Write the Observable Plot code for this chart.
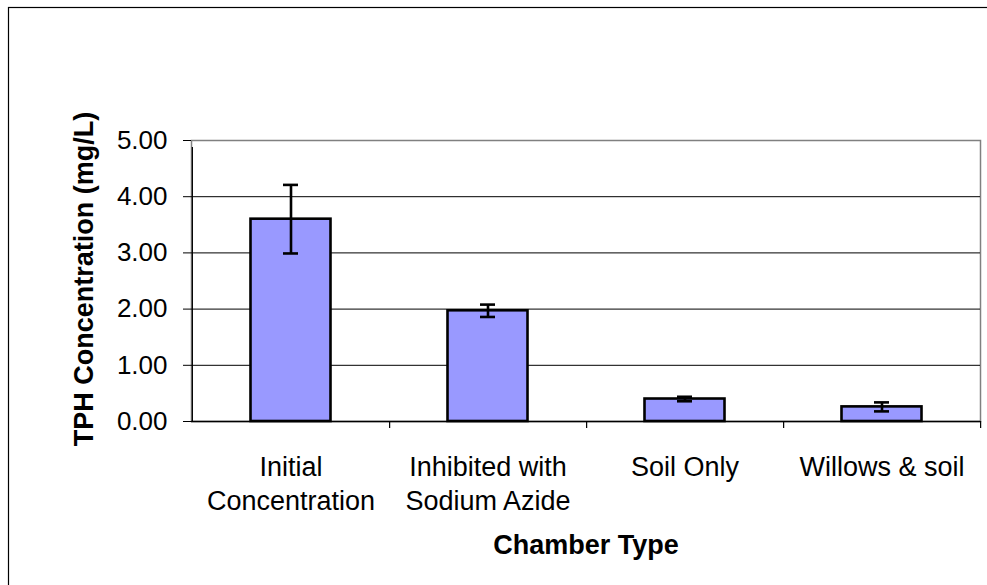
<!DOCTYPE html>
<html>
<head>
<meta charset="utf-8">
<script src="https://cdn.jsdelivr.net/npm/d3@7"></script>
<script src="https://cdn.jsdelivr.net/npm/@observablehq/plot@0.6"></script>
<style>
  html, body { margin: 0; padding: 0; background: #fff; }
  #chart svg { display: block; overflow: visible; }
</style>
</head>
<body>
<div id="chart"></div>
<script>
const categories = ["Initial\nConcentration", "Inhibited with\nSodium Azide", "Soil Only", "Willows & soil"];
const means = [3.60, 1.97, 0.40, 0.26];
const errors = [0.61, 0.11, 0.04, 0.08];
const yTicks = [0, 1, 2, 3, 4, 5];
const gridTicks = [1, 2, 3, 4];
const yTitle = "TPH Concentration (mg/L)";
const xTitle = "Chamber Type";

const data = categories.map((c, i) => ({cat: c, mean: means[i], lo: means[i] - errors[i], hi: means[i] + errors[i]}));

const W = 987, H = 585;
const mL = 191, mR = 7, mT = 140, mB = 164;
const step = (W - mL - mR) / categories.length;
const font = "Liberation Sans, Arial, Helvetica, sans-serif";

const chart = Plot.plot({
  width: W,
  height: H,
  marginLeft: mL,
  marginRight: mR,
  marginTop: mT,
  marginBottom: mB,
  style: {fontFamily: font, background: "#fff", color: "#000"},
  x: {domain: categories, padding: 0, axis: null},
  y: {domain: [0, 5], axis: null},
  marks: [
    Plot.frame({stroke: "#808080", strokeWidth: 1.5}),
    Plot.gridY(gridTicks, {stroke: "#000", strokeOpacity: 1, strokeWidth: 1}),
    // left axis line (extends slightly below zero as a tick)
    Plot.ruleX([categories[0]], {dx: -step / 2, y1: 0, y2: 5, insetBottom: -7, stroke: "#000", strokeWidth: 1.2}),
    // category boundary ticks
    Plot.ruleX(categories, {x: d => d, dx: step / 2, y1: 0, y2: 0, insetBottom: -7, stroke: "#000", strokeWidth: 1.2}),
    Plot.ruleY([0], {stroke: "#000", strokeWidth: 1.5}),
    Plot.axisY({ticks: yTicks, tickFormat: d3.format(".2f"), tickSize: 8, tickPadding: 16, fontSize: 26, label: null, stroke: "#000", fill: "#000"}),
    Plot.barY(data, {x: "cat", y: "mean", fill: "#9999ff", stroke: "#000", strokeWidth: 2.6, insetLeft: 58.5, insetRight: 58.5}),
    Plot.ruleX(data, {x: "cat", y1: "lo", y2: "hi", stroke: "#000", strokeWidth: 2.6}),
    Plot.tickY(data, {x: "cat", y: "hi", stroke: "#000", strokeWidth: 2.6, insetLeft: 91, insetRight: 91}),
    Plot.tickY(data, {x: "cat", y: "lo", stroke: "#000", strokeWidth: 2.6, insetLeft: 91, insetRight: 91}),
    Plot.text(categories, {x: d => d, text: d => d, frameAnchor: "bottom", lineAnchor: "top", dy: 30, fontSize: 27, lineHeight: 1.26, fill: "#000"}),
    Plot.text([xTitle], {frameAnchor: "bottom", lineAnchor: "bottom", dy: 132, fontSize: 27, fontWeight: "bold", fill: "#000"}),
    Plot.text([yTitle], {frameAnchor: "left", textAnchor: "middle", rotate: -90, lineAnchor: "bottom", dx: -99, dy: -2, fontSize: 27, fontWeight: "bold", fill: "#000"})
  ]
});

document.getElementById("chart").appendChild(chart);

// outer chart-area border (decoration)
d3.select(chart).insert("rect", ":first-child")
  .attr("x", 8.5).attr("y", 7.5)
  .attr("width", 990).attr("height", 590)
  .attr("fill", "none").attr("stroke", "#000").attr("stroke-width", 1.2);
</script>
</body>
</html>
